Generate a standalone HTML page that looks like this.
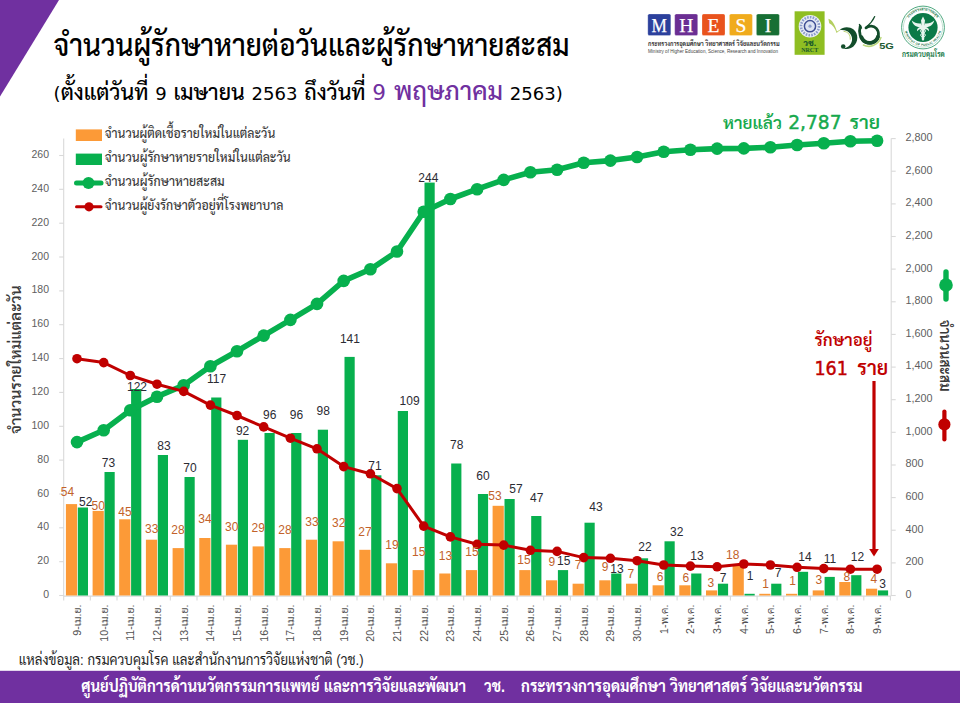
<!DOCTYPE html>
<html lang="th"><head><meta charset="utf-8"><title>จำนวนผู้รักษาหายต่อวันและผู้รักษาหายสะสม</title>
<style>
html,body{margin:0;padding:0;background:#fff}
#page{position:relative;width:960px;height:703px;overflow:hidden;background:#fff}
svg{display:block}
</style></head><body>
<div id="page">
<svg width="960" height="703" viewBox="0 0 960 703" font-family='"Liberation Sans","Sarabun","Noto Sans Thai Looped","Loma",sans-serif'>
<rect width="960" height="703" fill="#fff"/>
<polygon points="0,0 59,0 0,96.5" fill="#7030A0"/>
<rect x="0" y="670.8" width="960" height="32.2" fill="#7030A0"/>
<g stroke="#D9D9D9" stroke-width="1.1" fill="none">
<line x1="63.7" y1="138.5" x2="63.7" y2="596.1"/>
<line x1="891.2" y1="138.5" x2="891.2" y2="596.1"/>
<line x1="63.7" y1="596.1" x2="891.2" y2="596.1"/>
<line x1="59.2" y1="595.5" x2="63.7" y2="595.5"/>
<line x1="59.2" y1="561.7" x2="63.7" y2="561.7"/>
<line x1="59.2" y1="527.8" x2="63.7" y2="527.8"/>
<line x1="59.2" y1="494.0" x2="63.7" y2="494.0"/>
<line x1="59.2" y1="460.1" x2="63.7" y2="460.1"/>
<line x1="59.2" y1="426.3" x2="63.7" y2="426.3"/>
<line x1="59.2" y1="392.4" x2="63.7" y2="392.4"/>
<line x1="59.2" y1="358.6" x2="63.7" y2="358.6"/>
<line x1="59.2" y1="324.7" x2="63.7" y2="324.7"/>
<line x1="59.2" y1="290.9" x2="63.7" y2="290.9"/>
<line x1="59.2" y1="257.0" x2="63.7" y2="257.0"/>
<line x1="59.2" y1="223.2" x2="63.7" y2="223.2"/>
<line x1="59.2" y1="189.3" x2="63.7" y2="189.3"/>
<line x1="59.2" y1="155.5" x2="63.7" y2="155.5"/>
<line x1="891.2" y1="595.5" x2="895.7" y2="595.5"/>
<line x1="891.2" y1="562.9" x2="895.7" y2="562.9"/>
<line x1="891.2" y1="530.2" x2="895.7" y2="530.2"/>
<line x1="891.2" y1="497.6" x2="895.7" y2="497.6"/>
<line x1="891.2" y1="465.0" x2="895.7" y2="465.0"/>
<line x1="891.2" y1="432.3" x2="895.7" y2="432.3"/>
<line x1="891.2" y1="399.7" x2="895.7" y2="399.7"/>
<line x1="891.2" y1="367.1" x2="895.7" y2="367.1"/>
<line x1="891.2" y1="334.4" x2="895.7" y2="334.4"/>
<line x1="891.2" y1="301.8" x2="895.7" y2="301.8"/>
<line x1="891.2" y1="269.1" x2="895.7" y2="269.1"/>
<line x1="891.2" y1="236.5" x2="895.7" y2="236.5"/>
<line x1="891.2" y1="203.9" x2="895.7" y2="203.9"/>
<line x1="891.2" y1="171.2" x2="895.7" y2="171.2"/>
<line x1="891.2" y1="138.6" x2="895.7" y2="138.6"/>
<line x1="63.7" y1="596.1" x2="63.7" y2="600.5"/>
<line x1="90.3" y1="596.1" x2="90.3" y2="600.5"/>
<line x1="117.0" y1="596.1" x2="117.0" y2="600.5"/>
<line x1="143.7" y1="596.1" x2="143.7" y2="600.5"/>
<line x1="170.3" y1="596.1" x2="170.3" y2="600.5"/>
<line x1="197.0" y1="596.1" x2="197.0" y2="600.5"/>
<line x1="223.7" y1="596.1" x2="223.7" y2="600.5"/>
<line x1="250.4" y1="596.1" x2="250.4" y2="600.5"/>
<line x1="277.0" y1="596.1" x2="277.0" y2="600.5"/>
<line x1="303.7" y1="596.1" x2="303.7" y2="600.5"/>
<line x1="330.4" y1="596.1" x2="330.4" y2="600.5"/>
<line x1="357.0" y1="596.1" x2="357.0" y2="600.5"/>
<line x1="383.7" y1="596.1" x2="383.7" y2="600.5"/>
<line x1="410.4" y1="596.1" x2="410.4" y2="600.5"/>
<line x1="437.0" y1="596.1" x2="437.0" y2="600.5"/>
<line x1="463.7" y1="596.1" x2="463.7" y2="600.5"/>
<line x1="490.4" y1="596.1" x2="490.4" y2="600.5"/>
<line x1="517.1" y1="596.1" x2="517.1" y2="600.5"/>
<line x1="543.7" y1="596.1" x2="543.7" y2="600.5"/>
<line x1="570.4" y1="596.1" x2="570.4" y2="600.5"/>
<line x1="597.1" y1="596.1" x2="597.1" y2="600.5"/>
<line x1="623.7" y1="596.1" x2="623.7" y2="600.5"/>
<line x1="650.4" y1="596.1" x2="650.4" y2="600.5"/>
<line x1="677.1" y1="596.1" x2="677.1" y2="600.5"/>
<line x1="703.7" y1="596.1" x2="703.7" y2="600.5"/>
<line x1="730.4" y1="596.1" x2="730.4" y2="600.5"/>
<line x1="757.1" y1="596.1" x2="757.1" y2="600.5"/>
<line x1="783.8" y1="596.1" x2="783.8" y2="600.5"/>
<line x1="810.4" y1="596.1" x2="810.4" y2="600.5"/>
<line x1="837.1" y1="596.1" x2="837.1" y2="600.5"/>
<line x1="863.8" y1="596.1" x2="863.8" y2="600.5"/>
<line x1="890.4" y1="596.1" x2="890.4" y2="600.5"/>
</g>
<g fill="#5E5E5E" font-size="10.5" text-anchor="end">
<text x="49" y="598.0">0</text>
<text x="49" y="564.2">20</text>
<text x="49" y="530.3">40</text>
<text x="49" y="496.5">60</text>
<text x="49" y="462.6">80</text>
<text x="49" y="428.8">100</text>
<text x="49" y="394.9">120</text>
<text x="49" y="361.1">140</text>
<text x="49" y="327.2">160</text>
<text x="49" y="293.4">180</text>
<text x="49" y="259.5">200</text>
<text x="49" y="225.7">220</text>
<text x="49" y="191.8">240</text>
<text x="49" y="158.0">260</text>
</g>
<g fill="#5E5E5E" font-size="10.8" text-anchor="start">
<text x="905.6" y="597.9">0</text>
<text x="905.6" y="565.3">200</text>
<text x="905.6" y="532.6">400</text>
<text x="905.6" y="500.0">600</text>
<text x="905.6" y="467.4">800</text>
<text x="905.6" y="434.7">1,000</text>
<text x="905.6" y="402.1">1,200</text>
<text x="905.6" y="369.4">1,400</text>
<text x="905.6" y="336.8">1,600</text>
<text x="905.6" y="304.2">1,800</text>
<text x="905.6" y="271.5">2,000</text>
<text x="905.6" y="238.9">2,200</text>
<text x="905.6" y="206.3">2,400</text>
<text x="905.6" y="173.6">2,600</text>
<text x="905.6" y="141.0">2,800</text>
</g>
<g fill="#FC9A37">
<rect x="65.9" y="504.1" width="11.2" height="91.4"/>
<rect x="92.6" y="510.9" width="11.2" height="84.6"/>
<rect x="119.2" y="519.3" width="11.2" height="76.2"/>
<rect x="145.9" y="539.7" width="11.2" height="55.8"/>
<rect x="172.6" y="548.1" width="11.2" height="47.4"/>
<rect x="199.3" y="538.0" width="11.2" height="57.5"/>
<rect x="225.9" y="544.7" width="11.2" height="50.8"/>
<rect x="252.6" y="546.4" width="11.2" height="49.1"/>
<rect x="279.3" y="548.1" width="11.2" height="47.4"/>
<rect x="305.9" y="539.7" width="11.2" height="55.8"/>
<rect x="332.6" y="541.3" width="11.2" height="54.2"/>
<rect x="359.3" y="549.8" width="11.2" height="45.7"/>
<rect x="385.9" y="563.3" width="11.2" height="32.2"/>
<rect x="412.6" y="570.1" width="11.2" height="25.4"/>
<rect x="439.3" y="573.5" width="11.2" height="22.0"/>
<rect x="465.9" y="570.1" width="11.2" height="25.4"/>
<rect x="492.6" y="505.8" width="11.2" height="89.7"/>
<rect x="519.3" y="570.1" width="11.2" height="25.4"/>
<rect x="546.0" y="580.3" width="11.2" height="15.2"/>
<rect x="572.6" y="583.7" width="11.2" height="11.8"/>
<rect x="599.3" y="580.3" width="11.2" height="15.2"/>
<rect x="626.0" y="583.7" width="11.2" height="11.8"/>
<rect x="652.6" y="585.3" width="11.2" height="10.2"/>
<rect x="679.3" y="585.3" width="11.2" height="10.2"/>
<rect x="706.0" y="590.4" width="11.2" height="5.1"/>
<rect x="732.6" y="565.0" width="11.2" height="30.5"/>
<rect x="759.3" y="593.8" width="11.2" height="1.7"/>
<rect x="786.0" y="593.8" width="11.2" height="1.7"/>
<rect x="812.7" y="590.4" width="11.2" height="5.1"/>
<rect x="839.3" y="582.0" width="11.2" height="13.5"/>
<rect x="866.0" y="588.7" width="11.2" height="6.8"/>
</g>
<g fill="#07B04E">
<rect x="77.8" y="507.5" width="10.2" height="88.0"/>
<rect x="104.5" y="472.0" width="10.2" height="123.5"/>
<rect x="131.1" y="389.0" width="10.2" height="206.5"/>
<rect x="157.8" y="455.0" width="10.2" height="140.5"/>
<rect x="184.5" y="477.0" width="10.2" height="118.5"/>
<rect x="211.2" y="397.5" width="10.2" height="198.0"/>
<rect x="237.8" y="439.8" width="10.2" height="155.7"/>
<rect x="264.5" y="433.0" width="10.2" height="162.5"/>
<rect x="291.2" y="433.0" width="10.2" height="162.5"/>
<rect x="317.8" y="429.7" width="10.2" height="165.8"/>
<rect x="344.5" y="356.9" width="10.2" height="238.6"/>
<rect x="371.2" y="475.3" width="10.2" height="120.2"/>
<rect x="397.8" y="411.0" width="10.2" height="184.5"/>
<rect x="424.5" y="182.6" width="10.2" height="412.9"/>
<rect x="451.2" y="463.5" width="10.2" height="132.0"/>
<rect x="477.9" y="494.0" width="10.2" height="101.5"/>
<rect x="504.5" y="499.0" width="10.2" height="96.5"/>
<rect x="531.2" y="516.0" width="10.2" height="79.5"/>
<rect x="557.9" y="570.1" width="10.2" height="25.4"/>
<rect x="584.5" y="522.7" width="10.2" height="72.8"/>
<rect x="611.2" y="573.5" width="10.2" height="22.0"/>
<rect x="637.9" y="558.3" width="10.2" height="37.2"/>
<rect x="664.5" y="541.3" width="10.2" height="54.2"/>
<rect x="691.2" y="573.5" width="10.2" height="22.0"/>
<rect x="717.9" y="583.7" width="10.2" height="11.8"/>
<rect x="744.5" y="593.8" width="10.2" height="1.7"/>
<rect x="771.2" y="583.7" width="10.2" height="11.8"/>
<rect x="797.9" y="571.8" width="10.2" height="23.7"/>
<rect x="824.6" y="576.9" width="10.2" height="18.6"/>
<rect x="851.2" y="575.2" width="10.2" height="20.3"/>
<rect x="877.9" y="590.4" width="10.2" height="5.1"/>
</g>
<polyline points="77.0,442.1 103.7,430.2 130.3,410.3 157.0,396.7 183.7,385.3 210.4,366.2 237.0,351.2 263.7,335.6 290.4,319.9 317.0,303.9 343.7,280.9 370.4,269.3 397.0,251.5 423.7,211.7 450.4,199.0 477.1,189.2 503.7,179.9 530.4,172.2 557.1,169.8 583.7,162.8 610.4,160.6 637.1,157.0 663.7,151.8 690.4,149.7 717.1,148.6 743.8,148.4 770.4,147.2 797.1,145.0 823.8,143.2 850.4,141.2 877.1,140.7" fill="none" stroke="#07B04E" stroke-width="5.6" stroke-linejoin="round" stroke-linecap="round"/>
<g fill="#07B04E">
<circle cx="77.0" cy="442.1" r="6.3"/>
<circle cx="103.7" cy="430.2" r="6.3"/>
<circle cx="130.3" cy="410.3" r="6.3"/>
<circle cx="157.0" cy="396.7" r="6.3"/>
<circle cx="183.7" cy="385.3" r="6.3"/>
<circle cx="210.4" cy="366.2" r="6.3"/>
<circle cx="237.0" cy="351.2" r="6.3"/>
<circle cx="263.7" cy="335.6" r="6.3"/>
<circle cx="290.4" cy="319.9" r="6.3"/>
<circle cx="317.0" cy="303.9" r="6.3"/>
<circle cx="343.7" cy="280.9" r="6.3"/>
<circle cx="370.4" cy="269.3" r="6.3"/>
<circle cx="397.0" cy="251.5" r="6.3"/>
<circle cx="423.7" cy="211.7" r="6.3"/>
<circle cx="450.4" cy="199.0" r="6.3"/>
<circle cx="477.1" cy="189.2" r="6.3"/>
<circle cx="503.7" cy="179.9" r="6.3"/>
<circle cx="530.4" cy="172.2" r="6.3"/>
<circle cx="557.1" cy="169.8" r="6.3"/>
<circle cx="583.7" cy="162.8" r="6.3"/>
<circle cx="610.4" cy="160.6" r="6.3"/>
<circle cx="637.1" cy="157.0" r="6.3"/>
<circle cx="663.7" cy="151.8" r="6.3"/>
<circle cx="690.4" cy="149.7" r="6.3"/>
<circle cx="717.1" cy="148.6" r="6.3"/>
<circle cx="743.8" cy="148.4" r="6.3"/>
<circle cx="770.4" cy="147.2" r="6.3"/>
<circle cx="797.1" cy="145.0" r="6.3"/>
<circle cx="823.8" cy="143.2" r="6.3"/>
<circle cx="850.4" cy="141.2" r="6.3"/>
<circle cx="877.1" cy="140.7" r="6.3"/>
</g>
<polyline points="77.0,358.7 103.7,362.6 130.3,375.5 157.0,384.2 183.7,391.4 210.4,405.1 237.0,415.5 263.7,426.9 290.4,438.2 317.0,448.8 343.7,466.6 370.4,473.8 397.0,488.6 423.7,526.1 450.4,536.9 477.1,544.3 503.7,545.1 530.4,550.3 557.1,551.4 583.7,557.6 610.4,558.3 637.1,560.7 663.7,565.0 690.4,566.1 717.1,566.8 743.8,564.0 770.4,565.0 797.1,567.3 823.8,568.6 850.4,569.2 877.1,569.2" fill="none" stroke="#C00000" stroke-width="3" stroke-linejoin="round" stroke-linecap="round"/>
<g fill="#C00000">
<circle cx="77.0" cy="358.7" r="4.8"/>
<circle cx="103.7" cy="362.6" r="4.8"/>
<circle cx="130.3" cy="375.5" r="4.8"/>
<circle cx="157.0" cy="384.2" r="4.8"/>
<circle cx="183.7" cy="391.4" r="4.8"/>
<circle cx="210.4" cy="405.1" r="4.8"/>
<circle cx="237.0" cy="415.5" r="4.8"/>
<circle cx="263.7" cy="426.9" r="4.8"/>
<circle cx="290.4" cy="438.2" r="4.8"/>
<circle cx="317.0" cy="448.8" r="4.8"/>
<circle cx="343.7" cy="466.6" r="4.8"/>
<circle cx="370.4" cy="473.8" r="4.8"/>
<circle cx="397.0" cy="488.6" r="4.8"/>
<circle cx="423.7" cy="526.1" r="4.8"/>
<circle cx="450.4" cy="536.9" r="4.8"/>
<circle cx="477.1" cy="544.3" r="4.8"/>
<circle cx="503.7" cy="545.1" r="4.8"/>
<circle cx="530.4" cy="550.3" r="4.8"/>
<circle cx="557.1" cy="551.4" r="4.8"/>
<circle cx="583.7" cy="557.6" r="4.8"/>
<circle cx="610.4" cy="558.3" r="4.8"/>
<circle cx="637.1" cy="560.7" r="4.8"/>
<circle cx="663.7" cy="565.0" r="4.8"/>
<circle cx="690.4" cy="566.1" r="4.8"/>
<circle cx="717.1" cy="566.8" r="4.8"/>
<circle cx="743.8" cy="564.0" r="4.8"/>
<circle cx="770.4" cy="565.0" r="4.8"/>
<circle cx="797.1" cy="567.3" r="4.8"/>
<circle cx="823.8" cy="568.6" r="4.8"/>
<circle cx="850.4" cy="569.2" r="4.8"/>
<circle cx="877.1" cy="569.2" r="4.8"/>
</g>
<g fill="#C2622A" font-size="12" text-anchor="middle">
<text x="67.5" y="496.3">54</text>
<text x="98.2" y="510">50</text>
<text x="125" y="515.8">45</text>
<text x="151.8" y="533.3">33</text>
<text x="178" y="534.3">28</text>
<text x="205" y="523.3">34</text>
<text x="231.8" y="531.3">30</text>
<text x="258.2" y="532">29</text>
<text x="285" y="534.3">28</text>
<text x="312" y="525.5">33</text>
<text x="338.8" y="527">32</text>
<text x="365" y="535.5">27</text>
<text x="392" y="549.3">19</text>
<text x="418.8" y="555.8">15</text>
<text x="445.5" y="559.5">13</text>
<text x="472" y="555.8">15</text>
<text x="495" y="499.5">53</text>
<text x="524" y="564">15</text>
<text x="551.8" y="565.8">9</text>
<text x="578" y="568.8">7</text>
<text x="605" y="571">9</text>
<text x="630.8" y="578">7</text>
<text x="660" y="580.5">6</text>
<text x="685.8" y="581.8">6</text>
<text x="710.8" y="586.8">3</text>
<text x="732.8" y="558.8">18</text>
<text x="765.5" y="587.5">1</text>
<text x="792.5" y="584.5">1</text>
<text x="818.8" y="583.8">3</text>
<text x="846.8" y="581.3">8</text>
<text x="873.8" y="583.3">4</text>
</g>
<g fill="#2B2B33" font-size="12" text-anchor="middle">
<text x="85.8" y="505.8">52</text>
<text x="108.4" y="467">73</text>
<text x="137" y="391">122</text>
<text x="164" y="450">83</text>
<text x="190" y="472">70</text>
<text x="216.5" y="383">117</text>
<text x="242.6" y="435">92</text>
<text x="269.7" y="418.8">96</text>
<text x="296.4" y="418.6">96</text>
<text x="323.3" y="415.3">98</text>
<text x="349.9" y="342.5">141</text>
<text x="375" y="470.4">71</text>
<text x="409.6" y="404.5">109</text>
<text x="428.3" y="181.6">244</text>
<text x="456.7" y="449.4">78</text>
<text x="483" y="479.6">60</text>
<text x="516" y="492.7">57</text>
<text x="536.8" y="501.8">47</text>
<text x="563.8" y="565">15</text>
<text x="596" y="511">43</text>
<text x="617" y="573">13</text>
<text x="645" y="550.5">22</text>
<text x="676.8" y="536">32</text>
<text x="697" y="559.5">13</text>
<text x="723.2" y="581.8">7</text>
<text x="750" y="580">1</text>
<text x="778.2" y="577">7</text>
<text x="805" y="561.3">14</text>
<text x="830" y="562.5">11</text>
<text x="857.5" y="560.5">12</text>
<text x="882.5" y="588">3</text>
</g>
<g fill="#505050" font-size="10.6" text-anchor="end">
<text transform="translate(80.8,604.6) rotate(-90)">9-เม.ย.</text>
<text transform="translate(107.5,604.6) rotate(-90)">10-เม.ย.</text>
<text transform="translate(134.1,604.6) rotate(-90)">11-เม.ย.</text>
<text transform="translate(160.8,604.6) rotate(-90)">12-เม.ย.</text>
<text transform="translate(187.5,604.6) rotate(-90)">13-เม.ย.</text>
<text transform="translate(214.2,604.6) rotate(-90)">14-เม.ย.</text>
<text transform="translate(240.8,604.6) rotate(-90)">15-เม.ย.</text>
<text transform="translate(267.5,604.6) rotate(-90)">16-เม.ย.</text>
<text transform="translate(294.2,604.6) rotate(-90)">17-เม.ย.</text>
<text transform="translate(320.8,604.6) rotate(-90)">18-เม.ย.</text>
<text transform="translate(347.5,604.6) rotate(-90)">19-เม.ย.</text>
<text transform="translate(374.2,604.6) rotate(-90)">20-เม.ย.</text>
<text transform="translate(400.8,604.6) rotate(-90)">21-เม.ย.</text>
<text transform="translate(427.5,604.6) rotate(-90)">22-เม.ย.</text>
<text transform="translate(454.2,604.6) rotate(-90)">23-เม.ย.</text>
<text transform="translate(480.9,604.6) rotate(-90)">24-เม.ย.</text>
<text transform="translate(507.5,604.6) rotate(-90)">25-เม.ย.</text>
<text transform="translate(534.2,604.6) rotate(-90)">26-เม.ย.</text>
<text transform="translate(560.9,604.6) rotate(-90)">27-เม.ย.</text>
<text transform="translate(587.5,604.6) rotate(-90)">28-เม.ย.</text>
<text transform="translate(614.2,604.6) rotate(-90)">29-เม.ย.</text>
<text transform="translate(640.9,604.6) rotate(-90)">30-เม.ย.</text>
<text transform="translate(667.5,604.6) rotate(-90)">1-พ.ค.</text>
<text transform="translate(694.2,604.6) rotate(-90)">2-พ.ค.</text>
<text transform="translate(720.9,604.6) rotate(-90)">3-พ.ค.</text>
<text transform="translate(747.5,604.6) rotate(-90)">4-พ.ค.</text>
<text transform="translate(774.2,604.6) rotate(-90)">5-พ.ค.</text>
<text transform="translate(800.9,604.6) rotate(-90)">6-พ.ค.</text>
<text transform="translate(827.6,604.6) rotate(-90)">7-พ.ค.</text>
<text transform="translate(854.2,604.6) rotate(-90)">8-พ.ค.</text>
<text transform="translate(880.9,604.6) rotate(-90)">9-พ.ค.</text>
</g>
<rect x="75.8" y="129.4" width="26.2" height="11.6" fill="#FC9A37"/>
<rect x="75.8" y="153.6" width="26.2" height="11.4" fill="#07B04E"/>
<line x1="76.5" y1="183" x2="101" y2="183" stroke="#07B04E" stroke-width="5" stroke-linecap="round"/><circle cx="88.5" cy="183" r="6" fill="#07B04E"/>
<line x1="76.5" y1="206.8" x2="101" y2="206.8" stroke="#C00000" stroke-width="3" stroke-linecap="round"/><circle cx="89" cy="206.8" r="4.6" fill="#C00000"/>
<g fill="#3C3C3C" font-size="14" font-weight="500">
<text x="104.7" y="137.8" textLength="170.6" lengthAdjust="spacingAndGlyphs">จำนวนผู้ติดเชื้อรายใหม่ในแต่ละวัน</text>
<text x="104.7" y="161.6" textLength="186" lengthAdjust="spacingAndGlyphs">จำนวนผู้รักษาหายรายใหม่ในแต่ละวัน</text>
<text x="104.7" y="186" textLength="120" lengthAdjust="spacingAndGlyphs">จำนวนผู้รักษาหายสะสม</text>
<text x="104.7" y="209.8" textLength="178.8" lengthAdjust="spacingAndGlyphs">จำนวนผู้ยังรักษาตัวอยู่ที่โรงพยาบาล</text>
</g>
<g fill="#17A94D">
<text x="723" y="128.9" font-size="16.8" font-weight="600" textLength="59" lengthAdjust="spacingAndGlyphs">หายแล้ว</text>
<text x="788.2" y="128.9" font-size="19.5" stroke="#17A94D" stroke-width="0.45" font-family='"DejaVu Sans","Sarabun","Noto Sans Thai Looped","Loma",sans-serif' textLength="53.4" lengthAdjust="spacingAndGlyphs">2,787</text>
<text x="849.4" y="128.9" font-size="18.3" font-weight="600" textLength="30.8" lengthAdjust="spacingAndGlyphs">ราย</text>
</g>
<g fill="#C00000">
<text x="814.4" y="346.1" font-size="16.4" font-weight="600" textLength="58.1" lengthAdjust="spacingAndGlyphs">รักษาอยู่</text>
<text x="814.4" y="374.7" font-size="18.7" stroke="#C00000" stroke-width="0.45" font-family='"DejaVu Sans","Sarabun","Noto Sans Thai Looped","Loma",sans-serif' textLength="33.4" lengthAdjust="spacingAndGlyphs">161</text>
<text x="857.3" y="374.7" font-size="20.3" font-weight="600" textLength="31" lengthAdjust="spacingAndGlyphs">ราย</text>
</g>
<line x1="874" y1="381" x2="874" y2="550" stroke="#C00000" stroke-width="3.2"/>
<polygon points="869.2,549 878.8,549 874,556.5" fill="#C00000"/>
<text transform="translate(20.6,434) rotate(-90)" font-size="15.8" font-weight="600" fill="#3A3A3A" textLength="148.6" lengthAdjust="spacingAndGlyphs">จำนวนรายใหม่แต่ละวัน</text>
<text transform="translate(940.4,319.7) rotate(90)" font-size="14.8" font-weight="600" fill="#3A3A3A" textLength="71.8" lengthAdjust="spacingAndGlyphs">จำนวนสะสม</text>
<line x1="946" y1="272" x2="946" y2="299" stroke="#07B04E" stroke-width="5.4" stroke-linecap="round"/><circle cx="946" cy="285" r="6.8" fill="#07B04E"/>
<line x1="944.4" y1="411.5" x2="944.4" y2="439.5" stroke="#C00000" stroke-width="4.2" stroke-linecap="round"/><circle cx="944.4" cy="424.4" r="6.1" fill="#C00000"/>
<text x="53.6" y="55.9" font-size="30" font-weight="500" fill="#000" textLength="516" lengthAdjust="spacingAndGlyphs">จำนวนผู้รักษาหายต่อวันและผู้รักษาหายสะสม</text>
<text x="53.6" y="100.3" font-size="21.3" font-weight="500" fill="#000" font-family='"DejaVu Sans","Sarabun","Noto Sans Thai Looped","Loma",sans-serif' textLength="509.2" lengthAdjust="spacingAndGlyphs"><tspan font-size="18" font-weight="400">(</tspan>ตั้งแต่วันที่ <tspan font-size="18" font-weight="400">9</tspan> เมษายน <tspan font-size="18" font-weight="400">2563</tspan> ถึงวันที่ <tspan fill="#7030A0" font-size="25"><tspan font-size="21.5" font-weight="400">9</tspan> พฤษภาคม</tspan> <tspan font-size="18" font-weight="400">2563)</tspan></text>
<text x="18.7" y="664.5" font-size="15" font-weight="400" fill="#1F1F1F" textLength="345" lengthAdjust="spacingAndGlyphs">แหล่งข้อมูล: กรมควบคุมโรค และสำนักงานการวิจัยแห่งชาติ (วช.)</text>
<g fill="#fff" font-size="16.5" font-weight="700">
<text x="81.2" y="692" textLength="385" lengthAdjust="spacingAndGlyphs">ศูนย์ปฏิบัติการด้านนวัตกรรมการแพทย์ และการวิจัยและพัฒนา</text>
<text x="484" y="692" textLength="21" lengthAdjust="spacingAndGlyphs">วช.</text>
<text x="521" y="692" textLength="341.5" lengthAdjust="spacingAndGlyphs">กระทรวงการอุดมศึกษา วิทยาศาสตร์ วิจัยและนวัตกรรม</text>
</g>
<g font-family='"Liberation Serif","Noto Serif Thai",serif' font-size="19.5" font-weight="400" text-anchor="middle" fill="#fff" stroke="#fff" stroke-width="0.25">
<rect x="647.8" y="14" width="23" height="21.5" rx="1.6" fill="#2C409C"/><text x="659.3" y="31.8" textLength="15.4" lengthAdjust="spacingAndGlyphs">M</text>
<rect x="674.7" y="14" width="23" height="21.5" rx="1.6" fill="#6B2E93"/><text x="686.2" y="31.8">H</text>
<rect x="702.0" y="14" width="23" height="21.5" rx="1.6" fill="#E9531D"/><text x="713.5" y="31.8">E</text>
<rect x="729.4" y="14" width="23" height="21.5" rx="1.6" fill="#F0AB1C"/><text x="740.9" y="31.8">S</text>
<rect x="756.4" y="14" width="23" height="21.5" rx="1.6" fill="#176F34"/><text x="767.9" y="31.8">I</text>
</g>
<text x="648" y="46.2" font-size="7" font-weight="700" fill="#333" textLength="131.5" lengthAdjust="spacingAndGlyphs">กระทรวงการอุดมศึกษา วิทยาศาสตร์ วิจัยและนวัตกรรม</text>
<text x="648" y="53" font-size="4.7" fill="#444" textLength="130" lengthAdjust="spacingAndGlyphs">Ministry of Higher Education, Science, Research and Innovation</text>
<rect x="794.6" y="11.3" width="30" height="43.5" fill="#8FBE22"/>
<circle cx="810" cy="26.2" r="11.3" fill="#E9EDF6"/>
<circle cx="810" cy="26.2" r="9" fill="none" stroke="#8C9CCB" stroke-width="2.6" stroke-dasharray="1.6 1.2"/>
<circle cx="810" cy="26.2" r="5.6" fill="#DCE3F2" stroke="#3F4F94" stroke-width="1.5"/>
<circle cx="810" cy="26.2" r="1.6" fill="#8C9CCB"/>
<text x="809.7" y="46.4" font-size="8.8" font-weight="800" fill="#17582B" text-anchor="middle">วช.</text>
<text x="809.7" y="52.1" font-size="6" font-weight="700" fill="#17582B" text-anchor="middle" font-family='"Liberation Serif","Noto Serif Thai",serif'>NRCT</text>
<path d="M828.4,18.8 C831.6,19.6 834.6,23.6 837,31.6 C838,30.8 839.2,30 840.4,29.4 L840.6,30 C839,30.8 837.6,32 836.6,33 C835.2,28.4 832.6,24.8 829.2,23.2 Z" fill="#B4CF60"/>
<path d="M839.8,29.8 C843,26.6 849.5,26.2 853.6,29.6 C858.6,33.8 858.6,42 853.4,46.6 C850.6,49 846.6,49.4 843.6,48.4 C847.8,48 851.2,45 852,40.6 C852.8,35.6 849.4,31.2 844.4,30.2 C842.6,29.9 841,29.9 839.8,29.8 Z" fill="#134D2B"/>
<circle cx="843.2" cy="46.6" r="2.25" fill="#134D2B"/>
<path d="M843.6,31.4 C848,31.6 850.6,35 850.2,39.6" fill="none" stroke="#B4CF60" stroke-width="0.9"/>
<g fill="none" stroke="#134D2B" stroke-linecap="round" stroke-linejoin="round">
<path d="M860.2,26.4 C858.6,32 860,39.6 865.6,42.2 C871.4,44.8 877.8,41 878.4,34.8 C878.9,29.8 875,25.6 870.4,26.2 C868.4,26.4 866.8,27.2 866,27.8" stroke-width="2.8"/>
<path d="M861.4,37.4 C863.4,41.8 868,43.6 872,42.6 C875,41.8 877.2,39.6 878,36.8" stroke-width="3.9"/>
<path d="M859.5,24.6 L861.4,28" stroke-width="1.5"/>
<path d="M866.4,27 C869.8,24.2 872.8,20.8 874.7,16.5" stroke-width="1.2"/>
</g>
<path d="M863.4,45 C869,48 878,46 881,37.6" fill="none" stroke="#BBD87C" stroke-width="1.5" stroke-linecap="round"/>
<text x="879.2" y="49.1" font-size="9.4" font-weight="700" fill="#1E5B33" textLength="14.7" lengthAdjust="spacingAndGlyphs">5G</text>
<circle cx="923" cy="27.5" r="21.4" fill="#fff" stroke="#3A9E70" stroke-width="0.9"/>
<circle cx="923" cy="27.5" r="19.6" fill="none" stroke="#9CCFB6" stroke-width="0.6"/>
<circle cx="923" cy="27.5" r="14.6" fill="#0B7A48"/>
<defs><path id="arcT" d="M906,27.5 A17,17 0 0 1 940,27.5"/><path id="arcB" d="M904.6,27.5 A18.4,18.4 0 0 0 941.4,27.5"/></defs>
<text font-size="3.8" font-weight="700" fill="#1B7548" text-anchor="middle"><textPath href="#arcT" startOffset="50%">กระทรวงสาธารณสุข</textPath></text>
<text font-size="3.1" font-weight="700" fill="#1B7548" text-anchor="middle" letter-spacing="0.2"><textPath href="#arcB" startOffset="50%">MINISTRY OF PUBLIC HEALTH</textPath></text>
<g fill="#E8F5EE" stroke="none">
<path d="M923,16.4 L925,20.6 L924.4,24.4 L925.8,27.4 L924.6,30.2 L924.2,39.4 L923,40.9 L921.8,39.4 L921.4,30.2 L920.2,27.4 L921.6,24.4 L921,20.6 Z"/>
<path d="M923,28.6 C926.4,29.4 926.4,32.4 923,33.2 C919.8,34 919.8,36.4 923,37.2" fill="none" stroke="#E8F5EE" stroke-width="1"/>
<path d="M923,28.6 C919.6,29.4 919.6,32.4 923,33.2 C926.2,34 926.2,36.4 923,37.2" fill="none" stroke="#E8F5EE" stroke-width="1"/>
<path d="M921.4,23.4 C917.6,24 914.4,22.8 911.8,20.6 C912.8,24.6 915.8,27.4 920,27.2 C917.8,27.8 916.4,29.4 917.2,31.2 C918.2,29.6 919.8,29 921.6,29.2 Z"/>
<path d="M924.6,23.4 C928.4,24 931.6,22.8 934.2,20.6 C933.2,24.6 930.2,27.4 926,27.2 C928.2,27.8 929.6,29.4 928.8,31.2 C927.8,29.6 926.2,29 924.4,29.2 Z"/>
</g>
<text x="902" y="57" font-size="8" font-weight="700" fill="#1E7D4E" textLength="42.8" lengthAdjust="spacingAndGlyphs">กรมควบคุมโรค</text>
</svg>
</div>
</body></html>
